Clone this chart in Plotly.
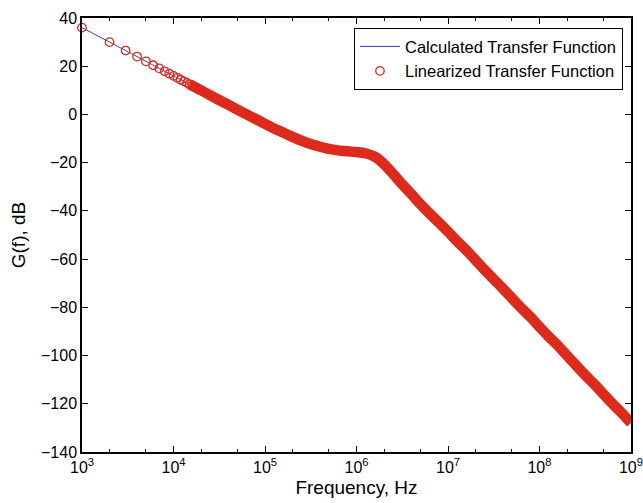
import plotly.graph_objects as go

# Low-frequency samples, spaced 1 kHz apart (Hz) and their gain (dB)
freq_lin = [1000, 2000, 3000, 4000, 5000, 6000, 7000, 8000, 9000, 10000,
            11000, 12000, 13000, 14000, 15000, 16000, 17000, 18000, 19000, 20000]
gain_lin = [36.0, 30.0, 26.5, 24.0, 22.0, 20.4, 19.1, 17.9, 16.9, 16.0,
            15.2, 14.4, 13.7, 13.1, 12.5, 11.9, 11.4, 10.9, 10.4, 10.0]

# Higher frequencies, tenth-decade steps (Hz) and gain (dB)
freq_log = [2.5e4, 3.15e4, 4e4, 5e4, 6.3e4, 8e4,
            1e5, 1.25e5, 1.6e5, 2e5, 2.5e5, 3.15e5, 4e5, 5e5, 6.3e5, 8e5,
            1e6, 1.25e6, 1.6e6, 2e6, 2.5e6, 3.15e6, 4e6, 5e6, 6.3e6, 8e6,
            1e7, 1.25e7, 1.6e7, 2e7, 2.5e7, 3.15e7, 4e7, 5e7, 6.3e7, 8e7,
            1e8, 1.25e8, 1.6e8, 2e8, 2.5e8, 3.15e8, 4e8, 5e8, 6.3e8, 8e8,
            1e9]
gain_log = [8.0, 6.0, 4.0, 2.0, 0.0, -2.0,
            -3.9, -5.8, -7.6, -9.3, -10.9, -12.3, -13.4, -14.3, -14.9, -15.3,
            -15.6, -16.1, -17.6, -20.6, -24.6, -28.9, -33.1, -37.2, -41.1, -44.9,
            -48.6, -52.5, -56.5, -60.4, -64.4, -68.3, -72.3, -76.2, -80.2, -84.1,
            -88.1, -92.0, -96.0, -100.0, -104.0, -108.0, -112.0, -116.0, -120.0, -124.0,
            -128.0]

x_tickvals = [1e3, 1e4, 1e5, 1e6, 1e7, 1e8, 1e9]
x_ticktext = ["10<sup>3</sup>", "10<sup>4</sup>", "10<sup>5</sup>", "10<sup>6</sup>",
              "10<sup>7</sup>", "10<sup>8</sup>", "10<sup>9</sup>"]
y_tickvals = [40, 20, 0, -20, -40, -60, -80, -100, -120, -140]

freq = freq_lin + freq_log
gain = gain_lin + gain_log

RED = "#dc2a1d"
BLUE = "#2f3fae"
FONT = "Liberation Sans, Arial, Helvetica, sans-serif"

# Where the markers crowd together they merge into a solid band
band_f = [f for f in freq if f >= 15000]
band_g = [g for f, g in zip(freq, gain) if f >= 15000]

fig = go.Figure()
fig.add_trace(go.Scatter(
    x=freq, y=gain, mode="lines",
    line=dict(color=BLUE, width=1, shape="spline", smoothing=0.8),
    name="Calculated Transfer Function"))
fig.add_trace(go.Scatter(
    x=band_f, y=band_g, mode="lines",
    line=dict(color=RED, width=10.5, shape="spline", smoothing=0.8),
    showlegend=False, hoverinfo="skip", legendgroup="lin"))
fig.add_trace(go.Scatter(
    x=freq_lin, y=gain_lin, mode="markers", cliponaxis=False,
    marker=dict(symbol="circle-open", size=8.5, color=RED, line=dict(width=1.3, color=RED)),
    name="Linearized Transfer Function", legendgroup="lin"))

axis_common = dict(
    showline=True, linecolor="black", linewidth=1.5, mirror="allticks",
    ticks="inside", ticklen=6, tickwidth=1, tickcolor="black",
    showgrid=False, zeroline=False, automargin=False,
    ticklabeloverflow="allow",
    tickfont=dict(family=FONT, size=16, color="black"),
)

fig.update_xaxes(
    type="log", range=[2.9999, 9.0001], tickvals=x_tickvals, ticktext=x_ticktext,
    minor=dict(ticks="inside", ticklen=3, tickcolor="black", showgrid=False),
    title=dict(text="Frequency, Hz", font=dict(family=FONT, size=19, color="black"), standoff=6),
    **axis_common)
fig.update_yaxes(
    range=[-140, 40], tickvals=y_tickvals,
    title=dict(text="G(f), dB", font=dict(family=FONT, size=19, color="black"), standoff=10),
    **axis_common)

fig.update_layout(
    width=643, height=503,
    margin=dict(l=82, r=12, t=18, b=51),
    paper_bgcolor="white", plot_bgcolor="white",
    font=dict(family=FONT, size=16, color="black"),
    legend=dict(x=0.985, y=0.977, xanchor="right", yanchor="top",
                bgcolor="white", bordercolor="black", borderwidth=1.2,
                font=dict(family=FONT, size=16.5, color="black"),
                tracegroupgap=0, itemwidth=40),
)

fig.write_html("out.html")
